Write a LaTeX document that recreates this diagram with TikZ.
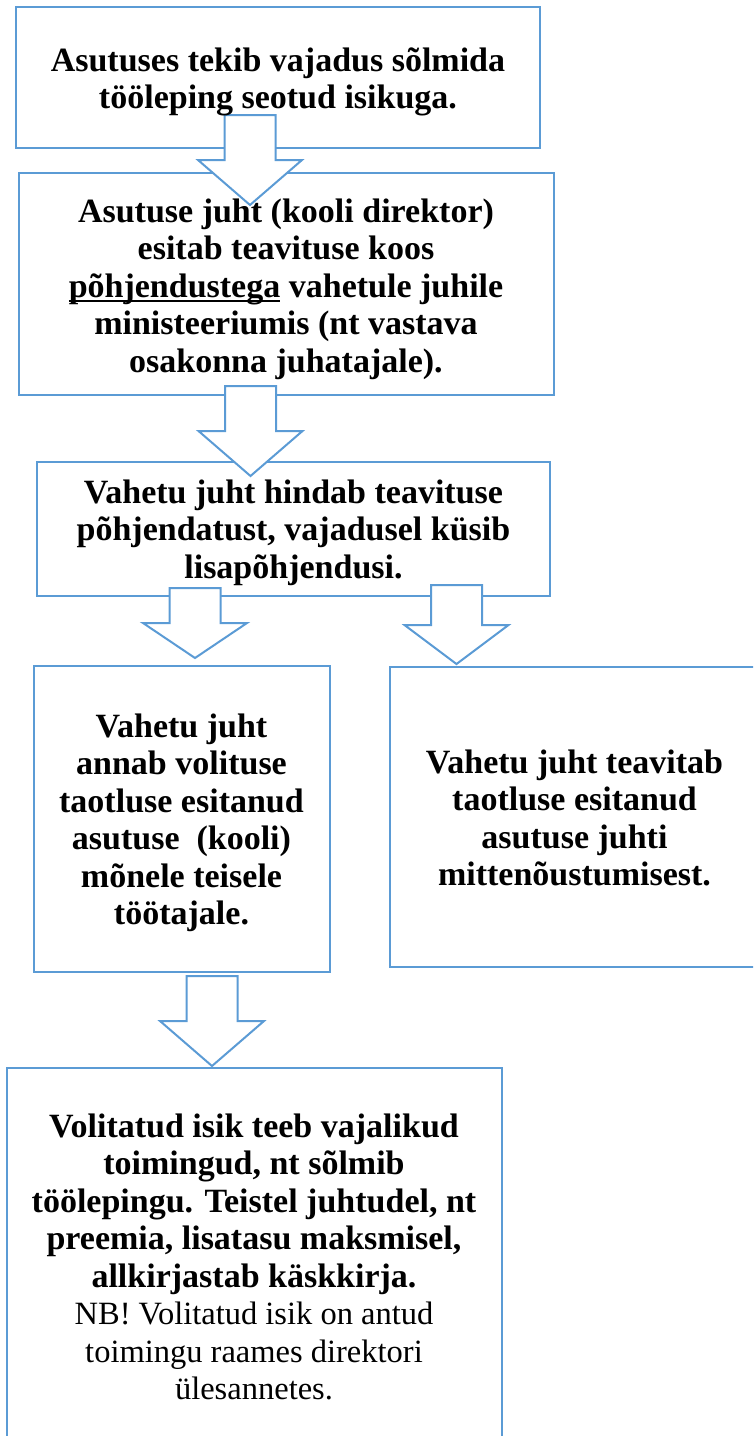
\documentclass[tikz,border=0pt]{standalone}
\usepackage{fontspec}
\setmainfont{Liberation Serif}
\definecolor{boxblue}{HTML}{5B9BD5}
\newcommand\myul[1]{\leavevmode\vtop{\hbox{\raisebox{0pt}[\height][0pt]{#1}}\kern2.6pt\hrule height 1.8pt}}
\newcommand\blockarr[4]{%
  \draw[arrowshape] (#1-25.5,#2) -- (#1+25.5,#2) -- (#1+25.5,#3) -- (#1+52,#3)
    -- (#1,#4) -- (#1-52,#3) -- (#1-25.5,#3) -- cycle;}
\tikzset{
  boxline/.style={draw=boxblue, line width=2pt},
  arrowshape/.style={draw=boxblue, line width=2pt, fill=white, line join=miter},
  txt/.style={anchor=north, inner sep=0pt, text width=520pt, align=flush center,
    font=\fontsize{34}{37.5}\selectfont\bfseries},
}
\begin{document}
\begin{tikzpicture}[x=1pt,y=-1pt]
\useasboundingbox (0,0) rectangle (753,1436);
\clip (0,0) rectangle (753,1436);
% boxes
\draw[boxline] (15.8,7) rectangle (540,148);
\draw[boxline] (19,173) rectangle (554,395);
\draw[boxline] (37,462) rectangle (550,596);
\draw[boxline] (33.6,666) rectangle (330,972);
\draw[boxline] (390,667) rectangle (770,967);
\draw[boxline] (7,1068) rectangle (502,1460);
% block arrows
\coordinate (a1) at (250,115);
\coordinate (a2) at (250.5,386);
\coordinate (a3) at (195,588);
\coordinate (a4) at (456.5,585);
\coordinate (a5) at (212,976);
\blockarr{250}{115}{160}{205}
\blockarr{250.5}{386}{431}{476}
\blockarr{195}{588}{623}{658}
\blockarr{456.5}{585}{625}{664}
\blockarr{212}{976}{1021}{1066}
% texts
\node[txt] (t1) at (278,39) {\rule{0pt}{32pt}Asutuses tekib vajadus sõlmida\\tööleping seotud isikuga.};
\node[txt] (t2) at (286,190) {\rule{0pt}{32pt}Asutuse juht (kooli direktor)\\esitab teavituse koos\\\myul{põhjendustega} vahetule juhile\\ministeeriumis (nt vastava\\osakonna juhatajale).};
\node[txt] (t3) at (293.5,471) {\rule{0pt}{32pt}Vahetu juht hindab teavituse\\põhjendatust, vajadusel küsib\\lisapõhjendusi.};
\node[txt] (t4) at (181.5,705) {\rule{0pt}{32pt}Vahetu juht\\annab volituse\\taotluse esitanud\\asutuse\ \ (kooli)\\mõnele teisele\\töötajale.};
\node[txt] (t5) at (574.5,741) {\rule{0pt}{32pt}Vahetu juht teavitab\\taotluse esitanud\\asutuse juhti\\mittenõustumisest.};
\node[txt] (t6) at (254,1105) {\rule{0pt}{32pt}Volitatud isik teeb vajalikud\\toimingud, nt sõlmib\\töölepingu. Teistel juhtudel, nt\\preemia, lisatasu maksmisel,\\allkirjastab käskkirja.\\\mdseries\fontsize{32.5}{37.5}\selectfont NB! Volitatud isik on antud\\toimingu raames direktori\\ülesannetes.};
\end{tikzpicture}
\end{document}
